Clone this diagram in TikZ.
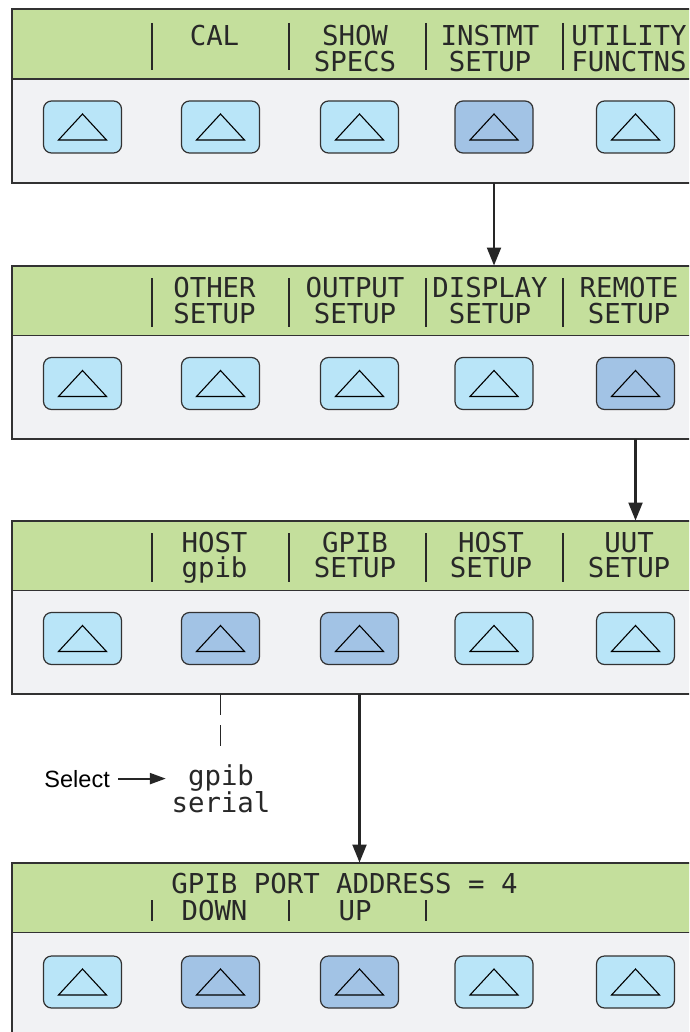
\documentclass[tikz,border=0pt]{standalone}
\usepackage{fontspec}
\setmainfont{Liberation Sans}
\newfontfamily\lcd{DejaVu Sans Mono}
\usetikzlibrary{arrows.meta}
\definecolor{lcdgreen}{RGB}{196,223,156}
\definecolor{panelgray}{RGB}{241,242,244}
\definecolor{keyblue}{RGB}{185,229,248}
\definecolor{keypress}{RGB}{162,195,229}
\definecolor{edge}{RGB}{50,50,50}
\definecolor{lcdtext}{RGB}{40,40,40}
\tikzset{
  panelbg/.style={rectangle, anchor=north west, inner sep=0, minimum width=690pt, minimum height=173.5pt, fill=panelgray},
  lcdband/.style={rectangle, anchor=north west, inner sep=0, minimum width=690pt, minimum height=69.5pt, fill=lcdgreen},
  bandline/.style={draw=edge, line width=1.6pt},
  panelborder/.style={draw=edge, line width=2pt},
  key/.style={rectangle, rounded corners=8pt, draw=edge, line width=1.2pt, fill=keyblue, minimum width=78pt, minimum height=52pt, inner sep=0},
  keyon/.style={key, fill=keypress},
  keymark/.pic={\draw[line width=1.1pt, line join=miter] (-24,13) -- (0,-13) -- (24,13) -- cycle;},
  lcdlabel/.style={font=\lcd\fontsize{27.4}{27.4}\selectfont, text=lcdtext, inner sep=0, anchor=base},
  sepline/.style={draw=lcdtext, line width=2pt},
  flow/.style={draw=black!85, line width=2.2pt, -{Triangle[length=18pt,width=14pt]}},
  selflow/.style={draw=black!85, line width=2.2pt, -{Triangle[length=16pt,width=11pt]}},
  hint/.style={draw=black!85, line width=1.2pt, dash pattern=on 21pt off 10pt},
  plain/.style={font=\fontsize{23.5}{23.5}\selectfont, inner sep=0, anchor=base east}
}
\begin{document}
\begin{tikzpicture}[x=1pt,y=-1pt]
\useasboundingbox (0,0) rectangle (689,1032);
\clip (0,0) rectangle (689,1032);
\fill[white] (0,0) rectangle (689,1032);

% ---------- panel 1 ----------
\node[panelbg] (p1) at (12,9) {};
\node[lcdband] (g1) at (12,9) {};
\draw[bandline] (g1.south west) -- (g1.south east);
\draw[panelborder] (p1.south west) rectangle (p1.north east);
\foreach \i/\x/\s in {1/82.5/key,2/220.5/key,3/359.5/key,4/494/keyon,5/635.5/key} {
  \node[\s] (b1\i) at (\x,127) {};
  \pic at (b1\i) {keymark};
}
\foreach \x in {151.5,288.5,425.5,562.5} \draw[sepline] (\x,23) -- (\x,70);
\node[lcdlabel] (l12a) at (214.5,45.5) {CAL};
\node[lcdlabel] (l13a) at (355,45.5) {SHOW};
\node[lcdlabel] (l13b) at (355,72) {SPECS};
\node[lcdlabel] (l14a) at (490,45.5) {INSTMT};
\node[lcdlabel] (l14b) at (490,72) {SETUP};
\node[lcdlabel] (l15a) at (629,45.5) {UTILITY};
\node[lcdlabel] (l15b) at (629,72) {FUNCTNS};

% ---------- panel 2 ----------
\node[panelbg] (p2) at (12,265.5) {};
\node[lcdband] (g2) at (12,265.5) {};
\draw[bandline] (g2.south west) -- (g2.south east);
\draw[panelborder] (p2.south west) rectangle (p2.north east);
\foreach \i/\x/\s in {1/82.5/key,2/220.5/key,3/359.5/key,4/494/key,5/635.5/keyon} {
  \node[\s] (b2\i) at (\x,383.5) {};
  \pic at (b2\i) {keymark};
}
\foreach \x in {151.5,288.5,425.5,562.5} \draw[sepline] (\x,278) -- (\x,327);
\node[lcdlabel] (l22a) at (214.5,297.5) {OTHER};
\node[lcdlabel] (l22b) at (214.5,323) {SETUP};
\node[lcdlabel] (l23a) at (355,297.5) {OUTPUT};
\node[lcdlabel] (l23b) at (355,323) {SETUP};
\node[lcdlabel] (l24a) at (490,297.5) {DISPLAY};
\node[lcdlabel] (l24b) at (490,323) {SETUP};
\node[lcdlabel] (l25a) at (629,297.5) {REMOTE};
\node[lcdlabel] (l25b) at (629,323) {SETUP};

% ---------- panel 3 ----------
\node[panelbg] (p3) at (12,520.5) {};
\node[lcdband] (g3) at (12,520.5) {};
\draw[bandline] (g3.south west) -- (g3.south east);
\draw[panelborder] (p3.south west) rectangle (p3.north east);
\foreach \i/\x/\s in {1/82.5/key,2/220.5/keyon,3/359.5/keyon,4/494/key,5/635.5/key} {
  \node[\s] (b3\i) at (\x,638.5) {};
  \pic at (b3\i) {keymark};
}
\foreach \x in {151.5,288.5,425.5,562.5} \draw[sepline] (\x,533) -- (\x,582);
\node[lcdlabel] (l32a) at (214.5,552) {HOST};
\node[lcdlabel] (l32b) at (214.5,577.5) {gpib};
\node[lcdlabel] (l33a) at (355,552) {GPIB};
\node[lcdlabel] (l33b) at (355,577.5) {SETUP};
\node[lcdlabel] (l34a) at (491,552) {HOST};
\node[lcdlabel] (l34b) at (491,577.5) {SETUP};
\node[lcdlabel] (l35a) at (629,552) {UUT};
\node[lcdlabel] (l35b) at (629,577.5) {SETUP};

% ---------- panel 4 ----------
\node[panelbg] (p4) at (12,862.5) {};
\node[lcdband] (g4) at (12,862.5) {};
\draw[bandline] (g4.south west) -- (g4.south east);
\draw[panelborder] (p4.south west) rectangle (p4.north east);
\foreach \i/\x/\s in {1/82.5/key,2/220.5/keyon,3/359.5/keyon,4/494/key,5/635.5/key} {
  \node[\s] (b4\i) at (\x,982) {};
  \pic at (b4\i) {keymark};
}
\foreach \x in {151.5,288.5,425.5} \draw[sepline] (\x,900) -- (\x,921);
\node[lcdlabel] (l41) at (344.5,893) {GPIB PORT ADDRESS = 4};
\node[lcdlabel] (l42) at (214.5,920) {DOWN};
\node[lcdlabel] (l43) at (355,920) {UP};

% ---------- flow arrows ----------
\draw[flow] (b14 |- p1.south) -- (b14 |- p2.north);
\draw[flow] (b25 |- p2.south) -- (b25 |- p3.north);
\draw[flow] (b33 |- p3.south) -- (b33 |- p4.north);

% ---------- selection hint ----------
\node[lcdlabel] (opt1) at (221,785) {gpib};
\node[lcdlabel] (opt2) at (221,812) {serial};
\coordinate (hintend) at (220.5,748);
\draw[hint] (b32 |- p3.south) -- (hintend);
\node[plain] (sel) at (110,787) {Select};
\draw[selflow, shorten <=8pt, shorten >=22pt] (sel.east) -- (sel.east -| opt1.west);
\end{tikzpicture}
\end{document}
